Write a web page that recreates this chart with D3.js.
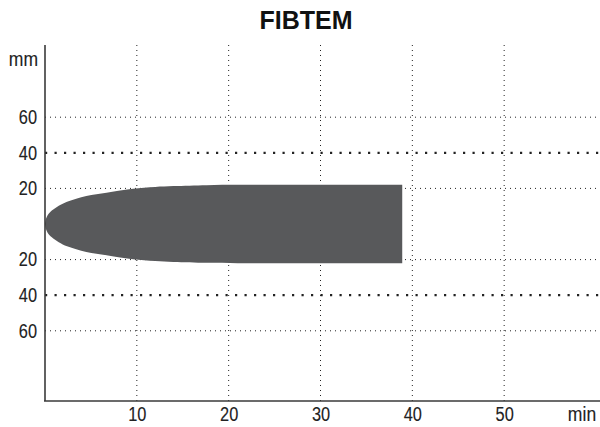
<!DOCTYPE html>
<html>
<head>
<meta charset="utf-8">
<script src="https://cdn.jsdelivr.net/npm/d3@7"></script>
<style>
  html, body { margin: 0; padding: 0; background: #fff; }
  svg { display: block; }
  .lbl { font-family: "Liberation Sans", Arial, sans-serif; font-size: 19.5px; fill: #222; stroke: #222; stroke-width: 0.12px; }
</style>
</head>
<body>
<script>
// trace: time (min) and half-amplitude (mm) each side
const traceTime = [0, 0.1, 0.3, 0.6, 0.9, 1.5, 2.4, 3.4, 4.5, 5.6, 6.7, 8, 9.6, 12, 14, 17.6, 21, 25, 30, 38.9];
const traceAmp  = [0, 2.8, 5, 6.9, 8.1, 10.2, 12.5, 14.2, 15.7, 16.7, 17.5, 18.7, 19.8, 20.8, 21.3, 21.8, 22, 22, 22, 22];
const xTicks = [10, 20, 30, 40, 50];
const yTicks = [-60, -40, -20, 20, 40, 60];
const boldTicks = [40];
const title = "FIBTEM";

const width = 600, height = 427;
const narrow = "scale(0.84,1)"; // the source uses a condensed face
const svg = d3.select("body").append("svg")
    .attr("width", width)
    .attr("height", height);

const x = d3.scaleLinear().domain([0, 60]).range([45, 596]);
const y = d3.scaleLinear().domain([-100, 100]).range([402, 46]);

const plotTop = 45, plotBottom = 401;

// grid lines
svg.append("g").selectAll("line")
  .data(xTicks)
  .join("line")
    .attr("x1", d => x(d)).attr("x2", d => x(d))
    .attr("y1", plotTop).attr("y2", plotBottom)
    .attr("stroke", "#222")
    .attr("stroke-width", 1)
    .attr("stroke-dasharray", "1,4");

svg.append("g").selectAll("line")
  .data(yTicks)
  .join("line")
    .attr("x1", x(0)).attr("x2", width)
    .attr("y1", d => y(d)).attr("y2", d => y(d))
    .attr("stroke", "#222")
    .attr("stroke-width", d => boldTicks.includes(Math.abs(d)) ? 2.2 : 1)
    .attr("stroke-dasharray", d => boldTicks.includes(Math.abs(d)) ? "2.2,7.3" : "1,4");

// the trace
const data = traceTime.map((t, i) => ({t, a: traceAmp[i]}));
const area = d3.area()
    .x(d => x(d.t))
    .y0(d => y(-d.a))
    .y1(d => y(d.a))
    .curve(d3.curveCatmullRom.alpha(0.5));
svg.append("path")
    .datum(data)
    .attr("d", area)
    .attr("fill", "#58595b");

// axes
svg.append("line")
    .attr("x1", x(0)).attr("x2", x(0))
    .attr("y1", plotTop).attr("y2", plotBottom)
    .attr("stroke", "#3a3a3a").attr("stroke-width", 1.6);
svg.append("line")
    .attr("x1", x(0) - 1).attr("x2", width)
    .attr("y1", plotBottom).attr("y2", plotBottom)
    .attr("stroke", "#3a3a3a").attr("stroke-width", 1.6);

const xAxis = svg.append("g")
    .attr("transform", `translate(0,${plotBottom})`)
    .call(d3.axisBottom(x).tickValues(xTicks).tickSize(0).tickPadding(6));
xAxis.select(".domain").remove();
xAxis.selectAll("text").attr("class", "lbl").attr("fill", null).attr("transform", narrow);

const yAxis = svg.append("g")
    .attr("transform", `translate(${x(0) - 8},0)`)
    .call(d3.axisLeft(y).tickValues(yTicks).tickSize(0).tickPadding(0).tickFormat(d => Math.abs(d)));
yAxis.select(".domain").remove();
yAxis.selectAll("text").attr("class", "lbl").attr("fill", null).attr("transform", narrow);
xAxis.attr("font-size", null).attr("font-family", null);
yAxis.attr("font-size", null).attr("font-family", null);

svg.append("g")
    .attr("transform", `translate(${x(0) - 7},60)`)
  .append("text")
    .attr("class", "lbl")
    .attr("dy", "0.32em")
    .attr("text-anchor", "end")
    .attr("transform", "scale(0.9,1)")
    .text("mm");

svg.append("g")
    .attr("transform", `translate(582,${plotBottom + 6})`)
  .append("text")
    .attr("class", "lbl")
    .attr("dy", "0.71em")
    .attr("text-anchor", "middle")
    .attr("transform", "scale(0.9,1)")
    .text("min");

svg.append("text")
    .attr("x", 306).attr("y", 29)
    .attr("text-anchor", "middle")
    .attr("font-family", "Liberation Sans, Arial, sans-serif")
    .attr("font-weight", "bold")
    .attr("font-size", 25)
    .attr("fill", "#111")
    .text(title);
</script>
</body>
</html>
